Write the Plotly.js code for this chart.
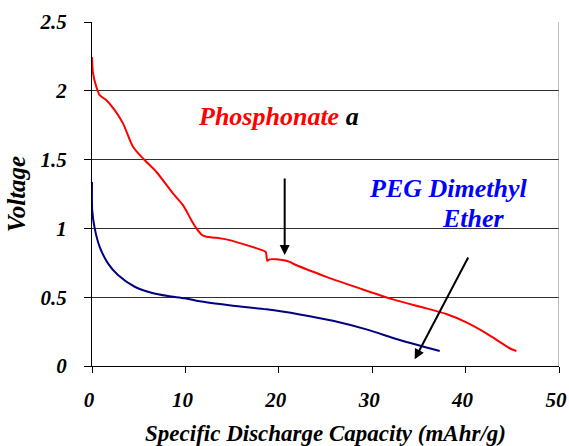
<!DOCTYPE html>
<html>
<head>
<meta charset="utf-8">
<script src="https://cdn.plot.ly/plotly-3.0.1.min.js"></script>
</head>
<body style="margin:0;background:#fff">
<div id="chart"></div>
<script>
// Phosphonate (red) discharge curve
const phosX = [0, 0.11, 0.47, 0.82, 1.54, 2.43, 3.32, 4.39, 5.46, 6.9, 8.67, 9.74, 10.64, 11.18, 11.71, 12.25, 13.32, 14.74, 16.53, 17.96, 18.6, 18.7, 18.78, 19.03, 19.74, 21.17, 21.5, 25.1, 28.66, 32.23, 35.8, 37.94, 40.09, 42.23, 44.72, 45.44];
const phosV = [2.246, 2.126, 2.028, 1.968, 1.932, 1.859, 1.763, 1.593, 1.508, 1.41, 1.254, 1.169, 1.060, 1.0, 0.956, 0.939, 0.932, 0.915, 0.879, 0.848, 0.830, 0.79, 0.765, 0.775, 0.775, 0.757, 0.745, 0.648, 0.564, 0.484, 0.419, 0.378, 0.317, 0.237, 0.129, 0.109];
// PEG Dimethyl Ether (navy) discharge curve
const pegX = [0, 0.02, 0.29, 0.82, 1.71, 2.78, 4.57, 6.36, 8.14, 9.93, 11.7, 15.1, 18.67, 22.24, 25.8, 29.38, 32.94, 37.23];
const pegV = [1.338, 1.133, 1.0, 0.866, 0.746, 0.661, 0.576, 0.532, 0.508, 0.492, 0.468, 0.438, 0.412, 0.375, 0.329, 0.266, 0.189, 0.109];
// Axis ticks
const xTicks = [0, 10, 20, 30, 40, 50];
const yTicks = [0, 0.5, 1, 1.5, 2, 2.5];
const yTickText = ['0', '0.5', '1', '1.5', '2', '2.5'];

const FAM = 'Liberation Serif';
function bi(size, color) { return {family: FAM, size: size, weight: 'bold', style: 'italic', color: color}; }
const traces = [
  {x: phosX, y: phosV, mode: 'lines', line: {color: '#ff0000', width: 2, shape: 'spline', smoothing: 0.7}, showlegend: false, hoverinfo: 'skip'},
  {x: pegX, y: pegV, mode: 'lines', line: {color: '#000080', width: 2, shape: 'spline', smoothing: 0.7}, showlegend: false, hoverinfo: 'skip'}
];
const layout = {
  width: 569, height: 446,
  margin: {l: 92, r: 10, t: 22, b: 80},
  paper_bgcolor: '#fff', plot_bgcolor: '#fff',
  font: {family: FAM},
  xaxis: {
    range: [0, 50], tickvals: xTicks, ticks: 'outside', ticklen: 6, tickcolor: '#000', tickwidth: 1,
    showgrid: false, zeroline: false, showline: true, linecolor: '#000', linewidth: 1,
    tickfont: bi(21, '#000'),
    ticklabelstandoff: 9, ticklabelshift: -3, ticklabeloverflow: 'allow',
    title: {text: 'Specific Discharge Capacity (mAhr/g)', font: bi(23, '#000'), standoff: 14}
  },
  yaxis: {
    range: [0, 2.5], tickvals: yTicks, ticktext: yTickText, ticks: 'outside', ticklen: 7, tickcolor: '#000', tickwidth: 1,
    showgrid: true, gridcolor: '#303030', gridwidth: 1, zeroline: false, showline: true, linecolor: '#000', linewidth: 1,
    tickfont: bi(21, '#000'),
    ticklabelstandoff: 13, ticklabeloverflow: 'allow',
    title: {text: 'Voltage', font: bi(25, '#000'), standoff: 6}
  },
  shapes: [
    {type: 'line', xref: 'x', yref: 'paper', x0: 50, x1: 50, y0: 0, y1: 1, line: {color: '#808080', width: 1}}
  ],
  annotations: [
    {x: 19.94, y: 1.816, xref: 'x', yref: 'y', text: 'Phosphonate <span style="color:#000">a</span>', showarrow: false,
     font: bi(26, '#ff0000'), xanchor: 'center', yanchor: 'middle'},
    {x: 38.08, y: 1.293, xref: 'x', yref: 'y', text: 'PEG Dimethyl', showarrow: false,
     font: bi(26, '#0000ff'), xanchor: 'center', yanchor: 'middle'},
    {x: 40.87, y: 1.075, xref: 'x', yref: 'y', text: 'Ether', showarrow: false,
     font: bi(26, '#0000ff'), xanchor: 'center', yanchor: 'middle'},
    {x: 20.63, y: 0.806, ax: 20.63, ay: 1.373, xref: 'x', yref: 'y', axref: 'x', ayref: 'y', text: '', showarrow: true,
     arrowhead: 2, arrowsize: 1, arrowwidth: 2, arrowcolor: '#000'},
    {x: 34.55, y: 0.049, ax: 40.36, ay: 0.799, xref: 'x', yref: 'y', axref: 'x', ayref: 'y', text: '', showarrow: true,
     arrowhead: 2, arrowsize: 1, arrowwidth: 2, arrowcolor: '#000'}
  ]
};
Plotly.newPlot('chart', traces, layout, {displayModeBar: false, staticPlot: true});
</script>
</body>
</html>
